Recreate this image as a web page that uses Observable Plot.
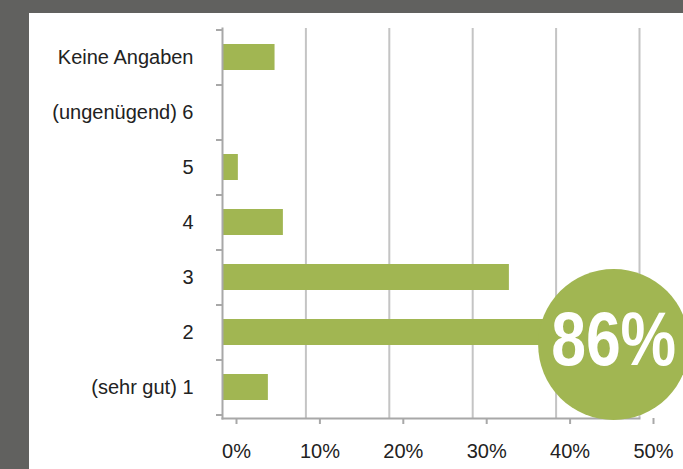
<!DOCTYPE html>
<html>
<head>
<meta charset="utf-8">
<script src="https://cdn.jsdelivr.net/npm/d3@7"></script>
<script src="https://cdn.jsdelivr.net/npm/@observablehq/plot@0.6"></script>
<style>
  html, body { margin: 0; padding: 0; }
  body { width: 683px; height: 469px; background: #61615f; position: relative; overflow: hidden; }
  #card { position: absolute; left: 29px; top: 13px; width: 654px; height: 456px; background: #fff; }
  #card svg { overflow: visible; display: block; }
</style>
</head>
<body>
<div id="card"></div>
<script>
const categories = ["Keine Angaben", "(ungenügend) 6", "5", "4", "3", "2", "(sehr gut) 1"];
const values = [6.3, 0, 1.9, 7.3, 34.4, 46, 5.5];
const xTicks = [0, 10, 20, 30, 40, 50];
const highlightLabel = "86%";
const highlightCategory = "2";
const highlightX = 46.9;

const data = categories.map((c, i) => ({category: c, value: values[i]}));

const grid = "#c4c4c4";
const axisColor = "#a8a8a8";
const green = "#a1b652";

const chart = Plot.plot({
  width: 654,
  height: 456,
  marginLeft: 193,
  marginRight: 44,
  marginTop: 15,
  marginBottom: 51,
  style: {fontFamily: "'Liberation Sans', Arial, sans-serif", fontSize: "20px", color: "#222", background: "transparent"},
  x: {domain: [0, 50]},
  y: {domain: categories, range: [17, 402], paddingInner: 0.52, paddingOuter: 0.26},
  marks: [
    Plot.gridX(xTicks.slice(1), {stroke: grid, strokeOpacity: 1, strokeWidth: 2}),
    Plot.barX(data, {x: "value", y: "category", fill: green}),
    Plot.frame({anchor: "left", stroke: axisColor, strokeWidth: 2}),
    Plot.frame({anchor: "bottom", stroke: axisColor, strokeWidth: 2}),
    Plot.axisX({ticks: xTicks, tickFormat: d => d + "%", tickSize: 6, tickPadding: 19, stroke: axisColor, strokeWidth: 2, fontSize: 20, fill: "#222", dx: 14}),
    Plot.axisY({tickSize: 0, tickPadding: 29, fontSize: 20, fill: "#222"}),
    Plot.axisY({tickSize: 6, tickFormat: () => "", stroke: axisColor, strokeWidth: 2, dy: -27.5}),
    Plot.axisY({ticks: [categories[categories.length - 1]], tickSize: 6, tickFormat: () => "", stroke: axisColor, strokeWidth: 2, dy: 27.5}),
    Plot.dot([{x: highlightX, y: highlightCategory}], {x: "x", y: "y", r: 75.5, fill: green, stroke: "none", dy: 12}),
    Plot.text([{x: highlightX, y: highlightCategory, t: highlightLabel}], {x: "x", y: "y", text: "t", fill: "#fff", fontSize: 76, fontWeight: "bold", fontFamily: "'Liberation Sans', Arial, sans-serif", dy: 19, className: "big-label"})
  ]
});
document.getElementById("card").appendChild(chart);
// condense the big label horizontally (the reference uses a condensed bold face)
const sx = chart.scale("x"), sy = chart.scale("y");
const px = sx.apply(highlightX);
const py = sy.apply(highlightCategory) + sy.bandwidth / 2;
chart.querySelectorAll(".big-label text").forEach(t => {
  t.removeAttribute("x");
  t.removeAttribute("y");
  t.setAttribute("transform", `translate(${px},${py}) scale(0.822,1)`);
});
</script>
</body>
</html>
